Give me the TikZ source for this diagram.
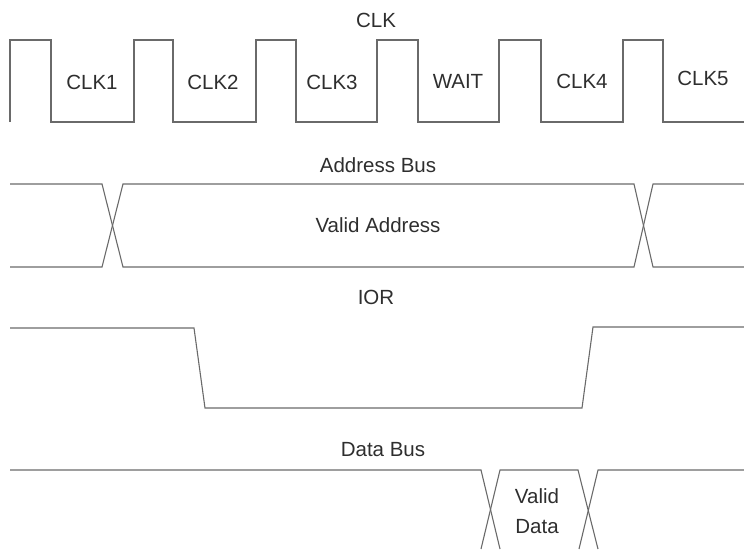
\documentclass[tikz,border=0pt]{standalone}
\usepackage{fontspec}
\setmainfont{Liberation Sans}
\definecolor{wire}{HTML}{6A6A6A}
\definecolor{ink}{HTML}{2E2E2E}
\begin{document}
\begin{tikzpicture}[x=1pt,y=-1pt,
  sig/.style={draw=wire,line width=1.1pt,line join=miter},
  lbl/.style={text=ink,font=\fontsize{20.5}{24}\selectfont,inner sep=0pt,anchor=center}]
\useasboundingbox (0,0) rectangle (744,549);
% CLK
\node[lbl] (clk) at (376,20) {CLK};
\draw[sig] (10,122) -- (10,40) -- (51,40) -- (51,122) -- (134,122) -- (134,40) -- (173,40) -- (173,122)
  -- (256,122) -- (256,40) -- (296,40) -- (296,122) -- (377,122) -- (377,40) -- (418,40) -- (418,122)
  -- (499,122) -- (499,40) -- (541,40) -- (541,122) -- (623,122) -- (623,40) -- (663,40) -- (663,122) -- (744,122);
\node[lbl] (c1) at (92,82) {CLK1};
\node[lbl] (c2) at (213,82) {CLK2};
\node[lbl] (c3) at (332,82) {CLK3};
\node[lbl] (cw) at (458,81) {WAIT};
\node[lbl] (c4) at (582,81) {CLK4};
\node[lbl] (c5) at (703,78) {CLK5};
% Address bus
\node[lbl] (ab) at (378,165) {Address Bus};
\draw[sig] (10,184) -- (102,184) -- (123,267) -- (634,267) -- (653,184) -- (744,184);
\draw[sig] (10,267) -- (102,267) -- (123,184) -- (634,184) -- (653,267) -- (744,267);
\node[lbl] (va) at (378,225) {Valid Address};
% IOR
\node[lbl] (ior) at (376,297) {IOR};
\draw[sig] (10,328) -- (194,328) -- (205,408) -- (582,408) -- (593,327) -- (744,327);
% Data bus
\node[lbl] (db) at (383,450) {Data Bus};
\draw[sig] (10,470) -- (481,470) -- (500,549);
\draw[sig] (481,549) -- (500,470) -- (578,470) -- (598,549);
\draw[sig] (579,549) -- (598,470) -- (744,470);
\node[lbl] (vd1) at (537,496) {Valid};
\node[lbl] (vd2) at (537,527) {Data};
\end{tikzpicture}
\end{document}
